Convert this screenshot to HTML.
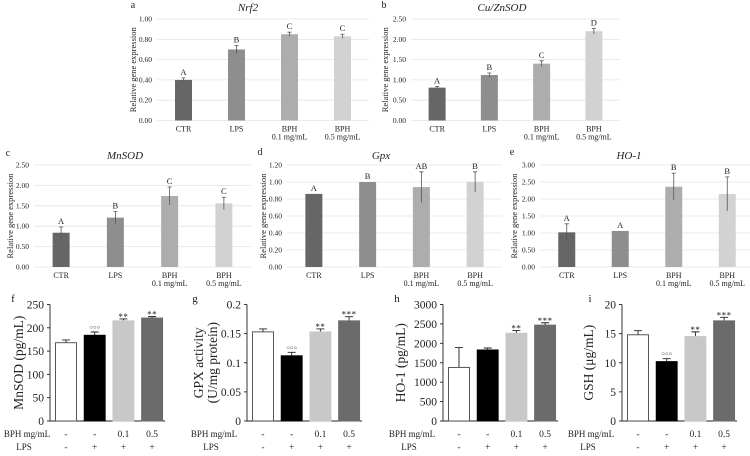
<!DOCTYPE html>
<html><head><meta charset="utf-8">
<style>
html,body{margin:0;padding:0;background:#fff;}
svg, svg text{font-family:"Liberation Serif","DejaVu Serif","Times New Roman",serif;}
</style></head>
<body>
<svg id="fig" width="750" height="451" viewBox="0 0 750 451" xmlns="http://www.w3.org/2000/svg"></svg>
<script>
// ---- data: gene expression panels (a-e)
const geneCats = ["CTR","LPS","BPH|0.1 mg/mL","BPH|0.5 mg/mL"];
const nrf2Vals = [0.40, 0.70, 0.85, 0.83];
const nrf2Err = [0.02, 0.04, 0.02, 0.02];
const nrf2Sig = ["A","B","C","C"];
const nrf2Ticks = [0,0.2,0.4,0.6,0.8,1.0];
const cuznVals = [0.81, 1.12, 1.40, 2.20];
const cuznErr = [0.03, 0.05, 0.07, 0.07];
const cuznSig = ["A","B","C","D"];
const cuznTicks = [0,0.5,1.0,1.5,2.0,2.5];
const mnsodVals = [0.84, 1.21, 1.74, 1.56];
const mnsodErr = [0.14, 0.15, 0.22, 0.15];
const mnsodSig = ["A","B","C","C"];
const mnsodTicks = [0,0.5,1.0,1.5,2.0,2.5];
const gpxVals = [0.86, 1.00, 0.94, 1.00];
const gpxErr = [0.0, 0.0, 0.18, 0.12];
const gpxSig = ["A","B","AB","B"];
const gpxTicks = [0,0.2,0.4,0.6,0.8,1.0,1.2];
const ho1Vals = [1.02, 1.06, 2.36, 2.15];
const ho1Err = [0.25, 0.0, 0.40, 0.50];
const ho1Sig = ["A","A","B","B"];
const ho1Ticks = [0,0.5,1.0,1.5,2.0,2.5,3.0];
// ---- data: protein panels (f-i)
const bphRow = ["-","-","0.1","0.5"];
const lpsRow = ["-","+","+","+"];
const fVals = [168, 184, 215, 221];
const fErr = [6, 7, 4, 3];
const fSig = ["","○○○","**","**"];
const fTicks = [0,50,100,150,200,250];
const gVals = [0.153, 0.112, 0.153, 0.172];
const gErr = [0.005, 0.006, 0.005, 0.007];
const gSig = ["","○○○","**","***"];
const gTicks = [0,0.05,0.1,0.15,0.2];
const gTickLabels = ["0","0.05","0.1","0.15","0.2"];
const hVals = [1380, 1830, 2260, 2470];
const hErr = [510, 50, 70, 60];
const hSig = ["","","**","***"];
const hTicks = [0,500,1000,1500,2000,2500,3000];
const iVals = [14.8, 10.2, 14.5, 17.2];
const iErr = [0.7, 0.5, 0.8, 0.6];
const iSig = ["","○○○","**","***"];
const iTicks = [0,5,10,15,20];

const NS="http://www.w3.org/2000/svg";
const svg=document.getElementById('fig');
const FONT='"Liberation Serif","DejaVu Serif",serif';
function mk(tag,attrs,parent){const e=document.createElementNS(NS,tag);for(const k in attrs)e.setAttribute(k,attrs[k]);(parent||svg).appendChild(e);return e;}
function txt(s,x,y,size,anchor,parent,extra){const t=mk('text',Object.assign({x:x,y:y,'font-size':size,'text-anchor':anchor||'middle',fill:'#222','font-family':FONT},extra||{}),parent);t.textContent=s;return t;}

const geneFills=["#666666","#8e8e8e","#adadad","#d2d2d2"];
function genePanel(cfg){
  const g=mk('g',{});
  
  
  const max=cfg.ticks[cfg.ticks.length-1];
  const y=v=>cfg.y0-(v/max)*(cfg.y0-cfg.yTop);
  const step=(cfg.xEnd-cfg.x0)/4;
  const xc=i=>cfg.x0+step*(i+0.5);
  cfg.ticks.forEach(t=>{
    const l=mk('line',{x1:cfg.x0,x2:cfg.xEnd,y1:y(t),y2:y(t),stroke:'#e4e4e4','stroke-width':0.8},g);
    
    
    const tl=txt(t.toFixed(2),cfg.x0-5,y(t)+2.5,7.5,'end',g);
    
    
  });
  cfg.vals.forEach((v,i)=>{
    const r=mk('rect',{x:xc(i)-8.5,y:y(v),width:17,height:cfg.y0-y(v),fill:geneFills[i]},g);
    
    
    const e=cfg.err[i];
    if(e>0){
      const el=mk('path',{d:`M${xc(i)},${y(v-e)}V${y(v+e)}M${xc(i)-2},${y(v+e)}H${xc(i)+2}`,stroke:'#555','stroke-width':0.8,fill:'none'},g);
      
      
    }
    const s=txt(cfg.sig[i],xc(i),y(v+e)-3,8.5,'middle',g);
    
    
    const parts=geneCats[i].split('|');
    parts.forEach((p,k)=>{
      const c=txt(p,xc(i),cfg.y0+11+k*8,8,'middle',g);
      
      
    });
  });
  const yl=txt('Relative gene expression',0,0,8.5,'middle',g,{transform:`translate(${cfg.ylx},${(cfg.y0+cfg.yTop)/2}) rotate(-90)`});
  
  
  const tt=txt(cfg.title,cfg.tx,cfg.ty,11,'middle',g,{'font-style':'italic'});
  
  
  const lt=txt(cfg.letter,cfg.lx,cfg.ly,10,'middle',g);
  
  
}
genePanel({name:'nrf2',vals:nrf2Vals,err:nrf2Err,sig:nrf2Sig,ticks:nrf2Ticks,x0:157,xEnd:369,y0:120.5,yTop:19,ylx:136,title:'Nrf2',tx:248,ty:11,letter:'a',lx:133,ly:8});
genePanel({name:'cuznsod',vals:cuznVals,err:cuznErr,sig:cuznSig,ticks:cuznTicks,x0:411,xEnd:620,y0:120.5,yTop:19,ylx:388,title:'Cu/ZnSOD',tx:502,ty:11,letter:'b',lx:384,ly:8});
genePanel({name:'mnsod',vals:mnsodVals,err:mnsodErr,sig:mnsodSig,ticks:mnsodTicks,x0:34,xEnd:251,y0:267,yTop:165,ylx:13,title:'MnSOD',tx:125,ty:159,letter:'c',lx:8,ly:156});
genePanel({name:'gpx',vals:gpxVals,err:gpxErr,sig:gpxSig,ticks:gpxTicks,x0:287,xEnd:502,y0:267,yTop:165,ylx:266,title:'Gpx',tx:381,ty:159,letter:'d',lx:260,ly:155});
genePanel({name:'ho1',vals:ho1Vals,err:ho1Err,sig:ho1Sig,ticks:ho1Ticks,x0:540,xEnd:754,y0:267,yTop:165,ylx:517,title:'HO-1',tx:629,ty:159,letter:'e',lx:512,ly:155});

const protFills=["#ffffff","#000000","#c8c8c8","#6b6b6b"];
function protPanel(cfg){
  const g=mk('g',{});
  
  
  const max=cfg.ticks[cfg.ticks.length-1];
  const y0=421,yTop=304.5;
  const y=v=>y0-(v/max)*(y0-yTop);
  const xs=i=>cfg.ax+16+i*28.7;
  const ax=mk('path',{d:`M${cfg.ax},${yTop}V${y0}H${cfg.ax+115}`,stroke:'#222','stroke-width':0.9,fill:'none'},g);
  
  
  cfg.ticks.forEach((t,k)=>{
    mk('line',{x1:cfg.ax-3,x2:cfg.ax,y1:y(t),y2:y(t),stroke:'#222','stroke-width':0.9},g);
    const tl=txt(cfg.tickLabels?cfg.tickLabels[k]:String(t),cfg.ax-6,y(t)+4,11.5,'end',g);
    
    
  });
  cfg.vals.forEach((v,i)=>{
    const cx=xs(i);
    const e=cfg.err[i];
    const el=mk('path',{d:`M${cx},${y(v)}V${y(v+e)}M${cx-4},${y(v+e)}H${cx+4}`,stroke:'#222','stroke-width':0.9,fill:'none'},g);
    
    
    const r=mk('rect',{x:cx-10.5,y:y(v),width:21,height:y0-y(v),fill:protFills[i],stroke:i==0?'#444':protFills[i],'stroke-width':0.9},g);
    
    
    if(cfg.sig[i]){
      const circ=cfg.sig[i].indexOf('○')>=0;
      const s=txt(cfg.sig[i],cx,y(v+e)-(circ?3:-1),circ?6:9,'middle',g,{'letter-spacing':circ?0:0.5});
      
      
    }
    const b=txt(bphRow[i],cx,437,9.5,'middle',g);
    
    
    const l=txt(lpsRow[i],cx,450,9.5,'middle',g);
    
    
  });
  const r1=txt('BPH mg/mL',cfg.rowx,437,9,'middle',g);
  
  
  const r2=txt('LPS',cfg.rowx-3,450,9,'middle',g);
  
  
  cfg.ylab.forEach((s,k)=>{
    const yl=txt(s,0,0,13.5,'middle',g,{transform:`translate(${cfg.ylx+k*14},${(y0+yTop)/2}) rotate(-90)`});
    
    
  });
  const lt=txt(cfg.letter,cfg.lx,302,11,'middle',g);
  
  
}
protPanel({name:'mnsod-activity',vals:fVals,err:fErr,sig:fSig,ticks:fTicks,ax:50,rowx:27,ylab:['MnSOD (pg/mL)'],ylx:23,letter:'f',lx:13});
protPanel({name:'gpx-activity',vals:gVals,err:gErr,sig:gSig,ticks:gTicks,tickLabels:gTickLabels,ax:247,rowx:214,ylab:['GPX activity','(U/mg protein)'],ylx:203,letter:'g',lx:195});
protPanel({name:'ho1-level',vals:hVals,err:hErr,sig:hSig,ticks:hTicks,ax:443,rowx:412,ylab:['HO-1 (pg/mL)'],ylx:405,letter:'h',lx:397});
protPanel({name:'gsh-level',vals:iVals,err:iErr,sig:iSig,ticks:iTicks,ax:622,rowx:591,ylab:['GSH (μg/mL)'],ylx:593,letter:'i',lx:590});
</script>
</body></html>
